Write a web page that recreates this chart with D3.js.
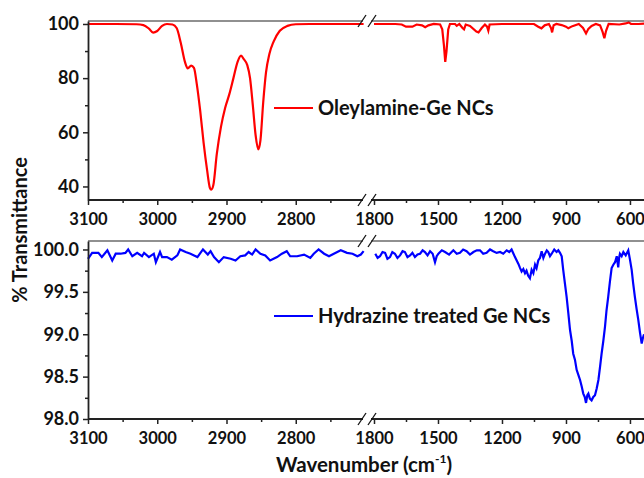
<!DOCTYPE html>
<html>
<head>
<meta charset="utf-8">
<script src="https://cdn.jsdelivr.net/npm/d3@7"></script>
<style>
  body { margin: 0; background: #fff; }
  text { font-family: Lato, 'Open Sans', sans-serif; font-weight: bold; fill: #111; }
</style>
</head>
<body>
<div id="chart"></div>
<script>
// tick values
const leftTicks = [3100, 3000, 2900, 2800];
const leftMinor = [3050, 2950, 2850, 2750];
const rightTicks = [1800, 1500, 1200, 900, 600];
const rightMinor = [1650, 1350, 1050, 750];
const topTicks = [40, 60, 80, 100];
const topMinor = [50, 70, 90];
const botTicks = [98.0, 98.5, 99.0, 99.5, 100.0];
const botMinor = [98.25, 98.75, 99.25, 99.75];

// oleylamine-Ge NCs, [wavenumber, %T]
const oleyHigh = [
  [3100, 100], [3060, 100], [3030, 99.9], [3020, 99.6], [3012, 98.3], [3006, 96.8], [3000, 97.4],
  [2993, 99.3], [2986, 100], [2978, 99.8], [2972, 98.5], [2966, 93], [2960, 86], [2956, 83.6],
  [2951, 84.6], [2947, 83.8], [2943, 78], [2938, 68], [2933, 56], [2928, 46], [2924, 39.5],
  [2922, 38.8], [2919, 40.5], [2914, 52], [2908, 62], [2902, 69], [2896, 74], [2890, 80],
  [2884, 86], [2879, 88.3], [2875, 87], [2870, 84.8], [2866, 80], [2862, 70], [2858, 59],
  [2854, 53.7], [2851, 57], [2847, 71], [2843, 82], [2838, 89], [2832, 93.5], [2823, 97.5],
  [2812, 99.3], [2800, 99.9], [2780, 100], [2702, 100]
];
const oleyLow = [
  [1800, 100], [1700, 100], [1670, 99.8], [1650, 99.0], [1620, 99.0], [1600, 99.8], [1575, 99.5],
  [1560, 98.8], [1545, 99.5], [1520, 100], [1490, 99.8], [1480, 98], [1472, 92], [1466, 86],
  [1460, 90], [1452, 98], [1444, 100], [1420, 100], [1412, 99.3], [1400, 100], [1385, 98.5],
  [1378, 98], [1370, 99.8], [1350, 99.3], [1320, 97.2], [1310, 96.9], [1295, 98.5], [1280, 99.8],
  [1270, 99], [1264, 97.5], [1258, 99.8], [1200, 100], [1100, 100], [1050, 100], [1030, 99],
  [1015, 98.4], [1000, 99.5], [980, 100], [970, 98.5], [965, 96.9], [958, 99.5], [945, 100],
  [920, 99.6], [900, 99], [889, 98.4], [870, 99.2], [840, 100], [820, 98.5], [806, 96.5],
  [795, 98.2], [780, 99.3], [760, 100], [740, 99.5], [728, 97], [720, 94.7], [712, 97.5],
  [700, 100], [650, 99.8], [620, 100.2], [606, 100.6], [595, 100], [560, 100], [520, 100.2]
];

// hydrazine treated Ge NCs
const hydHigh = [
  [3100, 99.89], [3094, 99.96], [3085, 99.96], [3080, 99.91], [3072, 99.99], [3065, 99.87],
  [3060, 99.95], [3053, 99.95], [3046, 99.96], [3042, 100.0], [3036, 99.92], [3029, 99.96],
  [3022, 99.92], [3019, 99.96], [3012, 99.91], [3005, 99.95], [3002, 99.85], [2996, 99.97],
  [2993, 99.91], [2986, 99.91], [2979, 99.88], [2971, 99.93], [2967, 100.0], [2959, 99.97],
  [2952, 99.95], [2942, 99.91], [2934, 100.0], [2927, 99.94], [2923, 99.98], [2918, 99.91],
  [2911, 99.85], [2904, 99.91], [2894, 99.89], [2887, 99.87], [2880, 99.92], [2873, 99.93],
  [2868, 99.97], [2863, 99.94], [2858, 100.0], [2851, 99.95], [2844, 99.93], [2837, 99.87],
  [2827, 99.91], [2820, 99.95], [2813, 99.98], [2808, 99.92], [2798, 99.92], [2788, 99.94],
  [2779, 99.90], [2774, 99.95], [2767, 100.0], [2759, 99.95], [2752, 99.92], [2745, 99.95],
  [2735, 99.99], [2726, 99.96], [2718, 99.95], [2711, 99.92], [2706, 99.94], [2702, 99.98]
];
const hydLow = [
  [1794, 99.95], [1783, 99.90], [1772, 99.92], [1760, 99.97], [1748, 99.96], [1737, 99.89],
  [1725, 99.91], [1714, 99.97], [1702, 99.95], [1690, 99.90], [1678, 99.93], [1666, 99.98],
  [1655, 99.97], [1643, 99.91], [1631, 99.93], [1620, 99.96], [1608, 99.91], [1596, 99.94],
  [1584, 99.95], [1572, 99.99], [1561, 99.97], [1549, 99.93], [1537, 99.98], [1525, 99.95],
  [1514, 99.85], [1506, 99.92], [1498, 99.95], [1482, 99.99], [1467, 99.97], [1448, 99.94],
  [1428, 99.99], [1412, 99.95], [1397, 99.96], [1382, 100.0], [1366, 99.98], [1350, 99.94],
  [1334, 99.97], [1318, 99.99], [1303, 99.99], [1288, 99.95], [1272, 99.96], [1256, 100.0],
  [1241, 99.98], [1225, 99.96], [1209, 99.97], [1194, 99.95], [1178, 99.99], [1166, 99.97],
  [1155, 100.0], [1139, 99.91], [1123, 99.83], [1115, 99.78], [1108, 99.74], [1100, 99.77],
  [1092, 99.72], [1085, 99.75], [1077, 99.69], [1069, 99.66], [1061, 99.76], [1053, 99.72],
  [1045, 99.82], [1038, 99.78], [1030, 99.87], [1022, 99.90], [1014, 99.98], [1006, 99.90],
  [998, 99.95], [990, 99.99], [983, 99.97], [975, 99.92], [967, 99.95], [955, 100.0],
  [944, 99.97], [936, 99.99], [928, 99.96], [920, 99.92], [913, 99.76], [905, 99.60],
  [897, 99.44], [889, 99.25], [881, 99.05], [873, 98.92], [866, 98.77], [858, 98.70],
  [850, 98.58], [842, 98.52], [834, 98.46], [826, 98.38], [819, 98.30], [812, 98.26],
  [806, 98.19], [800, 98.28], [795, 98.30], [788, 98.24], [780, 98.22], [772, 98.26],
  [764, 98.28], [756, 98.36], [748, 98.46], [740, 98.62], [733, 98.77], [725, 98.92],
  [717, 99.09], [710, 99.28], [702, 99.44], [694, 99.62], [686, 99.78], [678, 99.82],
  [670, 99.85], [662, 99.92], [655, 99.79], [651, 99.90], [647, 99.95], [639, 99.92],
  [631, 99.97], [620, 99.93], [608, 99.99], [600, 99.88], [592, 99.76], [585, 99.60],
  [577, 99.44], [569, 99.30], [561, 99.17], [553, 99.02], [545, 98.89], [540, 98.95], [534, 99.0]
];

const width = 644;
const height = 478;

const svg = d3.select('#chart')
  .append('svg')
  .attr('width', width)
  .attr('height', height);

const xLeft = d3.scaleLinear().domain([3100, 2700]).range([88, 365]);
const xRight = d3.scaleLinear().domain([1800, 500]).range([374, 651.3]);

const panels = [
  { top: 21, bottom: 200, domain: [35, 101.1], ticks: topTicks, minor: topMinor, fmt: d3.format('d'),
    high: oleyHigh, low: oleyLow, color: '#ff0000', curve: d3.curveMonotoneX,
    label: 'Oleylamine-Ge NCs', ly: 108 },
  { top: 241, bottom: 419, domain: [98.0, 100.1], ticks: botTicks, minor: botMinor, fmt: d3.format('.1f'),
    high: hydHigh, low: hydLow, color: '#0000ff', curve: d3.curveLinear,
    label: 'Hydrazine treated Ge NCs', ly: 316 }
];

const axisColor = '#222';

panels.forEach((p) => {
  const y = d3.scaleLinear().domain(p.domain).range([p.bottom, p.top]);

  // data lines
  const lineL = d3.line().x((d) => xLeft(d[0])).y((d) => y(d[1])).curve(p.curve);
  const lineR = d3.line().x((d) => xRight(d[0])).y((d) => y(d[1]));
  svg.append('path').datum(p.high).attr('d', lineL)
    .attr('fill', 'none').attr('stroke', p.color).attr('stroke-width', 2.2);
  svg.append('path').datum(p.low).attr('d', lineR)
    .attr('fill', 'none').attr('stroke', p.color).attr('stroke-width', 2.2);

  // frame lines with break
  [p.top, p.bottom].forEach((yy, i) => {
    const sw = i === 0 ? 1.2 : 1.8;
    svg.append('line').attr('x1', 88).attr('x2', 363).attr('y1', yy).attr('y2', yy)
      .attr('stroke', axisColor).attr('stroke-width', sw);
    svg.append('line').attr('x1', 371).attr('x2', width).attr('y1', yy).attr('y2', yy)
      .attr('stroke', axisColor).attr('stroke-width', sw);
    [362, 372].forEach((bx) => {
      svg.append('line')
        .attr('x1', bx - 4).attr('y1', yy + 6)
        .attr('x2', bx + 4).attr('y2', yy - 6)
        .attr('stroke', '#111').attr('stroke-width', 1.3);
    });
  });

  // x ticks
  const xAxes = [
    [xLeft, leftTicks, leftMinor],
    [xRight, rightTicks, rightMinor]
  ];
  xAxes.forEach(([sc, major, minor]) => {
    const gMin = svg.append('g').attr('transform', `translate(0,${p.bottom})`)
      .call(d3.axisBottom(sc).tickValues(minor).tickSize(3).tickFormat(''));
    gMin.select('.domain').remove();
    const gMaj = svg.append('g').attr('transform', `translate(0,${p.bottom})`)
      .call(d3.axisBottom(sc).tickValues(major).tickSize(5).tickPadding(5).tickFormat(d3.format('d')));
    gMaj.select('.domain').remove();
    [gMin, gMaj].forEach((g) => g.selectAll('line').attr('stroke', axisColor).attr('stroke-width', 1.5));
    gMaj.selectAll('text').attr('font-size', 16.5).attr('dy', '0.9em').style('font-family', null);
  });

  // y axis
  const gyMin = svg.append('g').attr('transform', 'translate(88,0)')
    .call(d3.axisLeft(y).tickValues(p.minor).tickSize(3).tickFormat(''));
  gyMin.select('.domain').remove();
  const gy = svg.append('g').attr('transform', 'translate(88,0)')
    .call(d3.axisLeft(y).tickValues(p.ticks).tickSize(5).tickSizeOuter(0).tickPadding(4).tickFormat(p.fmt));
  gy.select('.domain').attr('stroke', axisColor).attr('stroke-width', 1.8);
  [gyMin, gy].forEach((g) => g.selectAll('line').attr('stroke', axisColor).attr('stroke-width', 1.5));
  gy.selectAll('text').attr('font-size', 18).style('font-family', null);

  // legend
  svg.append('line').attr('x1', 274).attr('x2', 313).attr('y1', p.ly).attr('y2', p.ly)
    .attr('stroke', p.color).attr('stroke-width', 2.2);
  svg.append('text').attr('x', 318).attr('y', p.ly + 7)
    .attr('font-size', 20).text(p.label);
});

// axis titles
svg.append('text')
  .attr('transform', 'translate(27,230) rotate(-90)')
  .attr('text-anchor', 'middle')
  .attr('font-size', 20)
  .text('% Transmittance');

const xt = svg.append('text')
  .attr('x', 364).attr('y', 472)
  .attr('text-anchor', 'middle')
  .attr('font-size', 20.5);
xt.append('tspan').text('Wavenumber (cm');
xt.append('tspan').attr('dy', -9).attr('font-size', 12).text('-1');
xt.append('tspan').attr('dy', 9).text(')');
</script>
</body>
</html>
